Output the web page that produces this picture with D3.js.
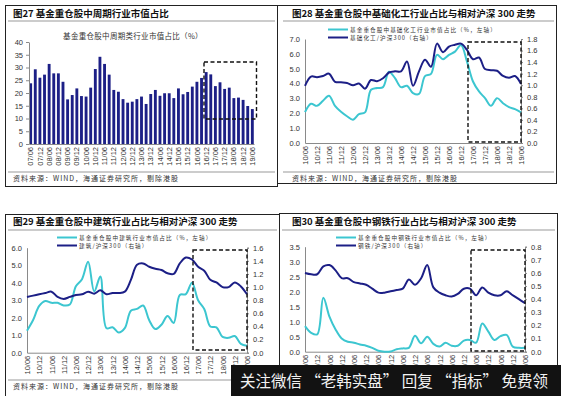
<!DOCTYPE html>
<html>
<head>
<meta charset="utf-8">
<script src="https://cdn.jsdelivr.net/npm/d3@7"></script>
<style>
body{margin:0;background:#fff;}
svg{display:block;font-family:"Liberation Sans","Noto Sans CJK SC",sans-serif;}
.cn{font-family:"Noto Sans CJK SC",sans-serif;}
.axis text{font-size:7.5px;fill:#333;font-family:"Liberation Sans",sans-serif;}
.axis path,.axis line{stroke:#8a8a8a;}
</style>
</head>
<body>
<script>
// ---- 数据 ----
// 图27 季度(07/06 - 19/06)
var quarters07 = ["07/06","07/09","07/12","08/03","08/06","08/09","08/12","09/03","09/06","09/09","09/12",
	"10/03","10/06","10/09","10/12","11/03","11/06","11/09","11/12","12/03","12/06","12/09","12/12",
	"13/03","13/06","13/09","13/12","14/03","14/06","14/09","14/12","15/03","15/06","15/09","15/12",
	"16/03","16/06","16/09","16/12","17/03","17/06","17/09","17/12","18/03","18/06","18/09","18/12",
	"19/03","19/06"];
var cycleShare = [23.8,29.3,26,27.2,31.4,27.7,27.7,24.4,17.5,19.2,
	21.8,18.8,18.6,22.1,29.4,34.2,31.4,27.2,21.2,20.5,
	17.6,16.2,16.6,17.6,18.6,15.7,19.6,21.2,18.9,19.9,
	19.9,18,21.8,19.5,20.4,22.5,24.4,25.9,28.2,27.3,
	22.7,24.2,21.6,22.1,18,18.2,17.3,14.9,13.7];
var barTicks = [0,5,10,15,20,25,30,35,40];

// 图28-30 季度(10/06 - 19/06)
var quarters10 = ["10/06","10/09","10/12","11/03","11/06","11/09","11/12","12/03","12/06","12/09","12/12",
	"13/03","13/06","13/09","13/12","14/03","14/06","14/09","14/12","15/03","15/06","15/09","15/12",
	"16/03","16/06","16/09","16/12","17/03","17/06","17/09","17/12","18/03","18/06","18/09","18/12",
	"19/03","19/06"];

var chemShare = [2.08,2.64,2.5,2.84,3.18,2.5,2.1,1.8,1.57,1.95,
	2.06,3.58,3.7,3.76,4.8,4.36,3.76,3.85,3.36,3.3,
	4.5,4.65,5.93,5.64,5.93,6.15,6.6,5.48,4.14,3.47,
	3.02,2.5,3.02,2.68,2.42,2.28,2.06];
var chemRel = [0.99,1.15,1.14,1.16,1.2,1.06,1.05,1.04,1.0,1.03,
	0.94,1.09,1.07,1.12,1.22,1.24,1.24,1.41,0.99,1.24,
	1.44,1.32,1.72,1.57,1.67,1.70,1.72,1.61,1.45,1.48,
	1.28,1.26,1.25,1.16,1.13,1.16,1.02];
var chemLeftTicks = [0,1,2,3,4,5,6,7];
var chemRightTicks = [0,0.2,0.4,0.6,0.8,1.0,1.2,1.4,1.6,1.8];

var buildShare = [1.26,1.87,2.67,2.95,2.85,2.85,2.7,2.75,3.8,4.2,
	5.2,3.5,4.35,1.4,1.45,1.15,1.4,2.4,2.5,2.7,
	1.85,1.35,1.6,2.1,1.7,3.3,3.35,4.0,3.0,2.5,
	1.5,1.45,0.9,0.85,0.95,0.5,0.4];
var buildRel = [0.85,0.87,0.89,0.91,0.93,0.85,0.82,0.85,0.88,0.89,
	0.93,0.90,0.95,0.89,0.91,0.91,0.93,1.11,1.34,1.36,
	1.31,1.28,1.26,1.21,1.20,1.36,1.45,1.42,1.31,1.25,
	1.11,1.07,1.0,1.0,1.07,1.01,0.89];
var buildLeftTicks = [0,1,2,3,4,5,6];
var buildRightTicks = [0,0.2,0.4,0.6,0.8,1.0,1.2,1.4,1.6];

var steelShare = [0.85,0.63,0.58,1.8,1.17,0.74,0.44,0.33,0.3,0.24,
	0.2,0.13,0.03,0.0,0.01,0.08,0.11,0.13,0.53,0.28,
	0.5,0.26,0.17,0.3,0.2,0.2,0.37,0.39,0.3,0.94,
	0.67,0.39,0.52,0.56,0.17,0.13,0.13];
var steelRel = [0.60,0.59,0.59,0.65,0.66,0.62,0.56,0.56,0.53,0.52,
	0.51,0.48,0.45,0.45,0.46,0.47,0.48,0.55,0.51,0.56,
	0.66,0.49,0.45,0.43,0.42,0.44,0.48,0.48,0.43,0.49,
	0.45,0.43,0.43,0.46,0.43,0.40,0.37];
var steelLeftTicks = [0,0.5,1,1.5,2,2.5,3,3.5];
var steelRightTicks = [0,0.1,0.2,0.3,0.4,0.5,0.6,0.7,0.8];

var navy = "#1c1f86";
var cyan = "#3cc6d0";
var sourceText = "资料来源：WIND，海通证券研究所，剔除港股";

var svg = d3.select("body").append("svg")
	.attr("width", 561)
	.attr("height", 396);

// 半年刻度只显示 /06 和 /12
function halfYear(d){ return d.slice(3) === "06" || d.slice(3) === "12"; }

// 横轴标签竖排
function rotateLabels(g){
	g.selectAll("text")
		.attr("transform", "rotate(-90)")
		.attr("text-anchor", "end")
		.attr("x", -3)
		.attr("y", 0)
		.attr("dy", "0.35em");
}

function hline(x1, x2, y, color){
	svg.append("line")
		.attr("x1", x1).attr("x2", x2).attr("y1", y).attr("y2", y)
		.attr("stroke", color).attr("stroke-width", 1);
}
function vline(x, y1, y2, color){
	svg.append("line")
		.attr("x1", x).attr("x2", x).attr("y1", y1).attr("y2", y2)
		.attr("stroke", color).attr("stroke-width", 1);
}
function title(x, y, t){
	svg.append("text").attr("class", "cn")
		.attr("x", x).attr("y", y)
		.attr("font-size", "9.5px").attr("font-weight", "bold").attr("fill", "#111")
		.text(t);
}
function source(x, y){
	svg.append("text").attr("class", "cn")
		.attr("x", x).attr("y", y)
		.attr("font-size", "7px").attr("letter-spacing", "1px").attr("fill", "#333")
		.text(sourceText);
}
function dashBox(x1, y1, x2, y2){
	svg.append("rect")
		.attr("x", x1).attr("y", y1)
		.attr("width", x2 - x1).attr("height", y2 - y1)
		.attr("fill", "none").attr("stroke", "#111")
		.attr("stroke-width", 1.4).attr("stroke-dasharray", "4,2.5");
}

// ---- 外框 ----
svg.append("rect").attr("x", 5.5).attr("y", 5.5).attr("width", 272).attr("height", 181)
	.attr("fill", "none").attr("stroke", "#222");
hline(278, 557, 5.5, "#222");
vline(556.5, 5, 183, "#222");
hline(278, 557, 183.5, "#222");
hline(5, 279, 214.5, "#222");
vline(5.5, 214, 396, "#222");
vline(279.5, 214, 396, "#222");
hline(279, 558, 213.5, "#222");
vline(557.5, 213, 396, "#222");

hline(8, 275, 21, "#999");
hline(283, 554, 21, "#999");
hline(8, 277, 230, "#999");
hline(282, 555, 230, "#999");
hline(8, 275, 172, "#999");
hline(283, 554, 172, "#999");
hline(8, 277, 380, "#999");

title(13, 16.5, "图27 基金重仓股中周期行业市值占比");
title(292, 16.5, "图28 基金重仓股中基础化工行业占比与相对沪深 300 走势");
title(13, 224.5, "图29 基金重仓股中建筑行业占比与相对沪深 300 走势");
title(292, 224.5, "图30 基金重仓股中钢铁行业占比与相对沪深 300 走势");
source(13, 181);
source(292, 181);
source(13, 388.5);

// ---- 图27 柱状图 ----
var bx = d3.scaleBand().domain(quarters07).range([29, 254]).paddingInner(0.38).paddingOuter(0.05);
var by = d3.scaleLinear().domain([0, 40]).range([144, 42]);

svg.append("text").attr("class", "cn")
	.attr("x", 133).attr("y", 38.5)
	.attr("text-anchor", "middle")
	.attr("font-size", "7.5px").attr("letter-spacing", "0.3px").attr("fill", "#333")
	.text("基金重仓股中周期类行业市值占比（%）");

svg.append("g").selectAll("rect")
	.data(cycleShare)
	.enter().append("rect")
	.attr("x", function(d, i){ return bx(quarters07[i]); })
	.attr("y", function(d){ return by(d); })
	.attr("width", bx.bandwidth())
	.attr("height", function(d){ return by(0) - by(d); })
	.attr("fill", navy);

svg.append("g").attr("class", "axis")
	.attr("transform", "translate(29,0)")
	.call(d3.axisLeft(by).tickValues(barTicks).tickSize(3).tickSizeOuter(0));
svg.append("g").attr("class", "axis")
	.attr("transform", "translate(0,144)")
	.call(d3.axisBottom(bx).tickValues(quarters07.filter(halfYear)).tickSize(0).tickSizeOuter(0))
	.call(rotateLabels);

dashBox(204, 62, 256.5, 119);

// ---- 折线图 ----
function linePanel(cfg){
	var x = d3.scalePoint().domain(quarters10).range([cfg.x0, cfg.x1]);
	var yl = d3.scaleLinear().domain([0, cfg.leftMax]).range([cfg.y0, cfg.y1]);
	var yr = d3.scaleLinear().domain([0, cfg.rightMax]).range([cfg.y0, cfg.y1]);

	svg.append("g").attr("class", "axis")
		.attr("transform", "translate(" + cfg.x0 + ",0)")
		.call(d3.axisLeft(yl).tickValues(cfg.leftTicks).tickFormat(d3.format(".1f")).tickSize(0).tickPadding(5));
	svg.append("g").attr("class", "axis")
		.attr("transform", "translate(" + cfg.x1 + ",0)")
		.call(d3.axisRight(yr).tickValues(cfg.rightTicks).tickFormat(d3.format(".1f")).tickSize(2).tickPadding(4));
	svg.append("g").attr("class", "axis")
		.attr("transform", "translate(0," + cfg.y0 + ")")
		.call(d3.axisBottom(x).tickValues(quarters10.filter(halfYear)).tickSize(0).tickSizeOuter(0))
		.call(rotateLabels);

	var lineL = d3.line()
		.x(function(d, i){ return x(quarters10[i]); })
		.y(function(d){ return yl(d); })
		.curve(d3.curveCatmullRom.alpha(0.5));
	var lineR = d3.line()
		.x(function(d, i){ return x(quarters10[i]); })
		.y(function(d){ return yr(d); })
		.curve(d3.curveCatmullRom.alpha(0.5));

	svg.append("path").datum(cfg.share)
		.attr("fill", "none").attr("stroke", cyan).attr("stroke-width", 2)
		.attr("d", lineL);
	svg.append("path").datum(cfg.rel)
		.attr("fill", "none").attr("stroke", navy).attr("stroke-width", 2)
		.attr("d", lineR);

	dashBox(cfg.box[0], cfg.box[1], cfg.box[2], cfg.box[3]);

	// 图例
	[[cyan, cfg.legend[0]], [navy, cfg.legend[1]]].forEach(function(l, i){
		var ly = cfg.legendY + i * 8;
		svg.append("line")
			.attr("x1", cfg.legendX).attr("x2", cfg.legendX + 20)
			.attr("y1", ly).attr("y2", ly)
			.attr("stroke", l[0]).attr("stroke-width", 2);
		svg.append("text").attr("class", "cn")
			.attr("x", cfg.legendX + 22).attr("y", ly + 2)
			.attr("font-size", "5.6px").attr("letter-spacing", "1.1px").attr("fill", "#333")
			.text(l[1]);
	});
}

linePanel({
	x0: 305, x1: 521, y0: 143, y1: 39,
	leftMax: 7, rightMax: 1.8,
	leftTicks: chemLeftTicks, rightTicks: chemRightTicks,
	share: chemShare, rel: chemRel,
	box: [468, 42, 521, 142],
	legendX: 328, legendY: 29.5,
	legend: ["基金重仓股中基础化工行业市值占比（%，左轴）", "基础化工/沪深300（右轴）"]
});

linePanel({
	x0: 27, x1: 247, y0: 352.7, y1: 247.7,
	leftMax: 6, rightMax: 1.6,
	leftTicks: buildLeftTicks, rightTicks: buildRightTicks,
	share: buildShare, rel: buildRel,
	box: [193, 250, 247, 350],
	legendX: 57, legendY: 237.5,
	legend: ["基金重仓股中建筑行业市值占比（%，左轴）", "建筑/沪深300（右轴）"]
});

linePanel({
	x0: 305, x1: 525, y0: 351.7, y1: 246.7,
	leftMax: 3.5, rightMax: 0.8,
	leftTicks: steelLeftTicks, rightTicks: steelRightTicks,
	share: steelShare, rel: steelRel,
	box: [471, 250, 525, 351],
	legendX: 336, legendY: 237.5,
	legend: ["基金重仓股中钢铁行业市值占比（%，左轴）", "钢铁/沪深300（右轴）"]
});

// ---- 水印条 ----
svg.append("rect")
	.attr("x", 231).attr("y", 365)
	.attr("width", 330).attr("height", 31)
	.attr("fill", "#121212");
svg.append("text").attr("class", "cn")
	.attr("x", 240).attr("y", 387)
	.attr("font-size", "16px").attr("fill", "#f2f2f2")
	.attr("textLength", 308).attr("lengthAdjust", "spacingAndGlyphs")
	.text("关注微信 “老韩实盘” 回复 “指标” 免费领");
</script>
</body>
</html>
